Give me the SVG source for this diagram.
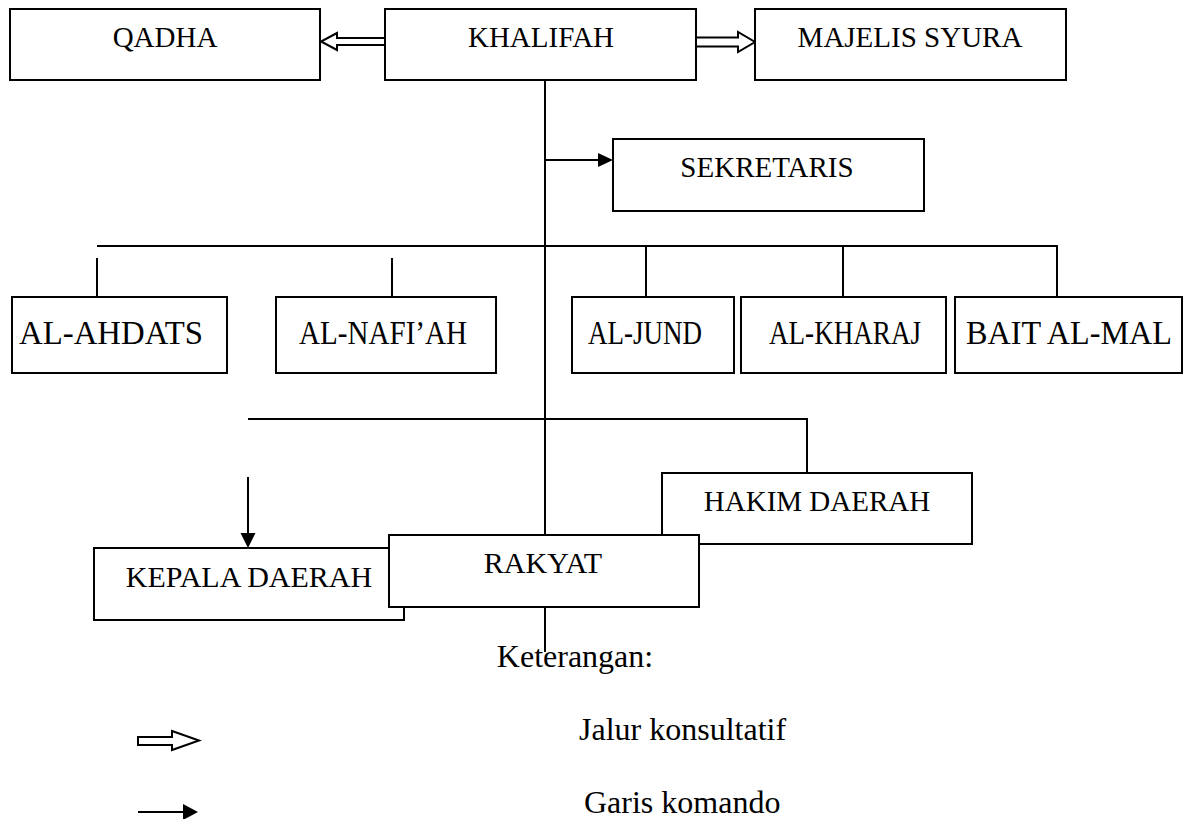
<svg xmlns="http://www.w3.org/2000/svg" width="1186" height="819" viewBox="0 0 1186 819" font-family="'Liberation Serif', 'Times New Roman', serif">
<defs>
<style>
.box{fill:#fff;stroke:#000;stroke-width:2}
.ln{fill:none;stroke:#000;stroke-width:2}
.hol{fill:#fff;stroke:#000;stroke-width:2;stroke-linejoin:miter}
.sol{fill:#000;stroke:none}
.t{font-family:'Liberation Serif','Times New Roman',serif;font-size:29px;fill:#000;text-anchor:middle}
.r2{font-size:33px}
.m{font-size:30px}
.lg{font-size:32px}
.st{text-anchor:start}
</style>
</defs>
<rect width="1186" height="819" fill="#fff"/>
<g id="connectors">
<line class="ln" x1="545" y1="80" x2="545" y2="536"/>
<line class="ln" x1="545" y1="606" x2="545" y2="652"/>
<line class="ln" x1="545" y1="160" x2="600" y2="160"/>
<polygon class="sol" points="598,153 613,160 598,167"/>
<polyline class="ln" points="97,246 1057,246 1057,297"/>
<line class="ln" x1="646" y1="246" x2="646" y2="297"/>
<line class="ln" x1="843" y1="246" x2="843" y2="297"/>
<line class="ln" x1="97" y1="258" x2="97" y2="297"/>
<line class="ln" x1="392" y1="258" x2="392" y2="297"/>
<polyline class="ln" points="248,419 807,419 807,473"/>
<line class="ln" x1="248" y1="477" x2="248" y2="535"/>
<polygon class="sol" points="240.5,533 255.5,533 248,548"/>
<polygon class="hol" points="385,38 337,38 337,33 321,41.5 337,50 337,45 385,45"/>
<polygon class="hol" points="696,37.5 738,37.5 738,32 755,42 738,52 738,46.5 696,46.5"/>
</g>
<g id="qadha"><rect class="box" x="10" y="9" width="310" height="71"/><text class="t" x="165" y="47">QADHA</text></g>
<g id="khalifah"><rect class="box" x="385" y="9" width="311" height="71"/><text class="t" x="541" y="47">KHALIFAH</text></g>
<g id="majelis-syura"><rect class="box" x="755" y="9" width="311" height="71"/><text class="t" x="910" y="47">MAJELIS SYURA</text></g>
<g id="sekretaris"><rect class="box" x="613" y="139" width="311" height="72"/><text class="t" x="767" y="177">SEKRETARIS</text></g>
<g id="al-ahdats"><rect class="box" x="12" y="297" width="215" height="76"/><text class="t r2" x="111" y="344" textLength="184" lengthAdjust="spacingAndGlyphs">AL-AHDATS</text></g>
<g id="al-nafiah"><rect class="box" x="276" y="297" width="220" height="76"/><text class="t r2" x="383" y="344" textLength="168" lengthAdjust="spacingAndGlyphs">AL-NAFI’AH</text></g>
<g id="al-jund"><rect class="box" x="572" y="297" width="162" height="76"/><text class="t r2" x="645" y="344" textLength="114" lengthAdjust="spacingAndGlyphs">AL-JUND</text></g>
<g id="al-kharaj"><rect class="box" x="741" y="297" width="205" height="76"/><text class="t r2" x="845" y="344" textLength="152" lengthAdjust="spacingAndGlyphs">AL-KHARAJ</text></g>
<g id="bait-al-mal"><rect class="box" x="955" y="297" width="227" height="76"/><text class="t r2" x="1069" y="344" textLength="206" lengthAdjust="spacingAndGlyphs">BAIT AL-MAL</text></g>
<g id="hakim-daerah"><rect class="box" x="662" y="473" width="310" height="71"/><text class="t" x="817" y="511">HAKIM DAERAH</text></g>
<g id="kepala-daerah"><rect class="box" x="94" y="548" width="310" height="72"/><text class="t m" x="249" y="587">KEPALA DAERAH</text></g>
<g id="rakyat"><rect class="box" x="389" y="535" width="310" height="72"/><text class="t m" x="543" y="573">RAKYAT</text></g>
<g id="legend">
<text class="t lg" x="575" y="667">Keterangan:</text>
<polygon class="hol" points="138,737 172,737 172,731 199,740.5 172,750 172,745 138,745"/>
<line class="ln" x1="138" y1="812" x2="186" y2="812"/>
<polygon class="sol" points="183,804 198,812 183,820"/>
<text class="t lg st" x="579" y="740">Jalur konsultatif</text>
<text class="t lg st" x="584" y="813">Garis komando</text>
</g>
</svg>
